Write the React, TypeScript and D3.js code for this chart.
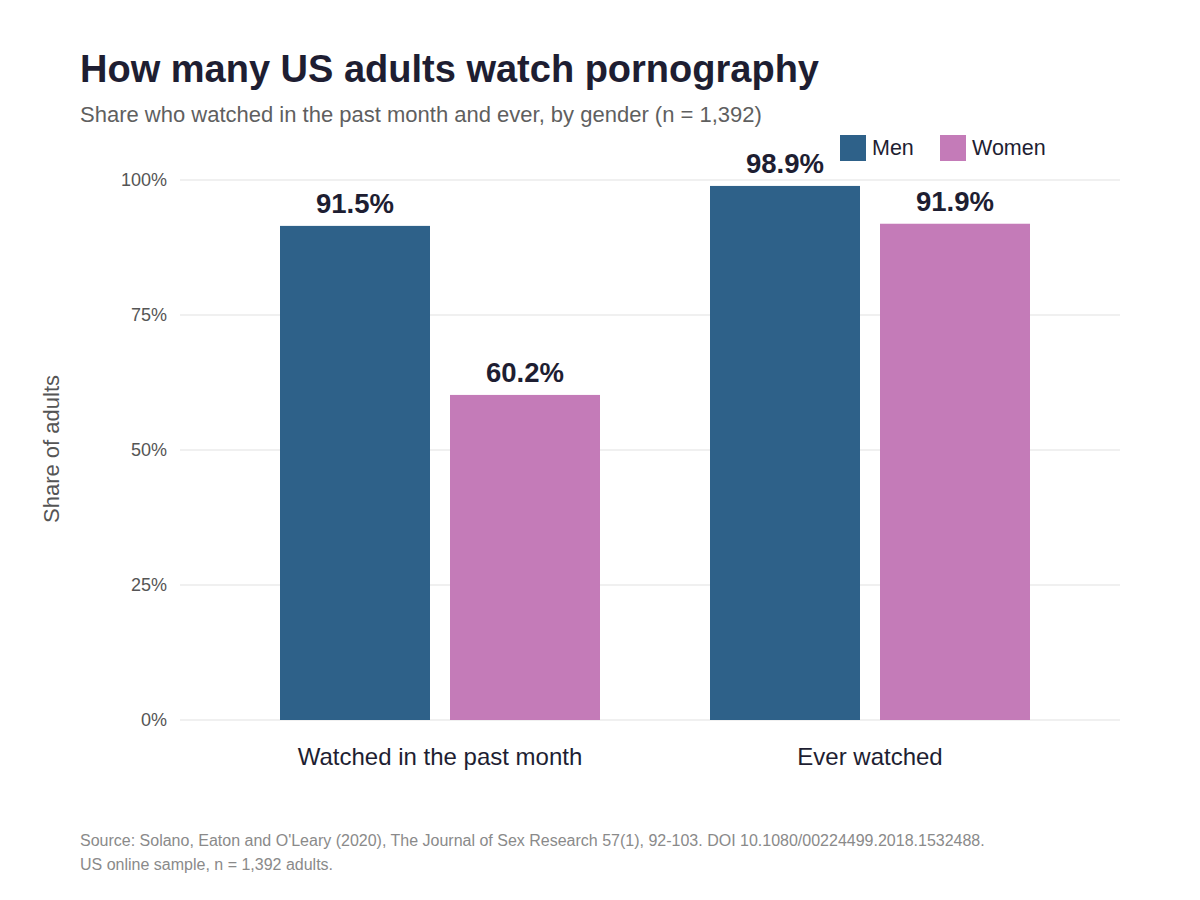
import * as d3 from 'd3'

const categories = ['Watched in the past month', 'Ever watched']
const genders = ['Men', 'Women']
const menValues = [91.5, 98.9]
const womenValues = [60.2, 91.9]
const yTicks = [0, 25, 50, 75, 100]

const colors: Record<string, string> = { Men: '#2e6189', Women: '#c47bb8' }

export default function App() {
  const width = 1200
  const height = 900
  const plot = { left: 180, right: 1120, top: 180, bottom: 720 }
  const font = '"Liberation Sans", Arial, Helvetica, sans-serif'

  // groups sit inside the plot with a wide gap between them
  const x = d3.scaleBand<string>().domain(categories).range([280, 1030]).paddingInner(110 / 430).paddingOuter(0)
  const xSub = d3.scaleBand<string>().domain(genders).range([0, x.bandwidth()]).paddingInner(20 / 170)
  const y = d3.scaleLinear().domain([0, 100]).range([plot.bottom, plot.top])

  const rows = categories.map((c, i) => ({ category: c, values: { Men: menValues[i], Women: womenValues[i] } as Record<string, number> }))

  return (
    <svg width={width} height={height} viewBox={`0 0 ${width} ${height}`} style={{ display: 'block', margin: '-8px', fontFamily: font }}>
      <rect width={width} height={height} fill="#ffffff" />

      <text x={80} y={82} fontSize={38} fontWeight="bold" fill="#1e1e32">How many US adults watch pornography</text>
      <text x={80} y={122} fontSize={22} fill="#5f5f5f">Share who watched in the past month and ever, by gender (n = 1,392)</text>

      {/* gridlines + y ticks */}
      {yTicks.map(t => (
        <g key={t}>
          <line x1={plot.left} x2={plot.right} y1={y(t)} y2={y(t)} stroke="#ebebeb" strokeWidth={1.5} />
          <text x={167} y={y(t)} dy="0.35em" textAnchor="end" fontSize={18} fill="#555555">{t}%</text>
        </g>
      ))}

      <text transform={`translate(59,449) rotate(-90)`} textAnchor="middle" fontSize={22} fill="#555555">Share of adults</text>

      {/* bars */}
      {rows.map(r => (
        <g key={r.category} transform={`translate(${x(r.category)},0)`}>
          {genders.map(g => (
            <g key={g}>
              <rect x={xSub(g)} y={y(r.values[g])} width={xSub.bandwidth()} height={y(0) - y(r.values[g])} fill={colors[g]} />
              <text x={xSub(g)! + xSub.bandwidth() / 2} y={y(r.values[g]) - 13} textAnchor="middle" fontSize={27.5} fontWeight="bold" fill="#1e1e32">
                {r.values[g].toFixed(1)}%
              </text>
            </g>
          ))}
          <text x={x.bandwidth() / 2} y={765} textAnchor="middle" fontSize={24} fill="#1e1e32">{r.category}</text>
        </g>
      ))}

      {/* legend */}
      {genders.map((g, i) => (
        <g key={g} transform={`translate(${840 + i * 100},135)`}>
          <rect width={26} height={26} fill={colors[g]} />
          <text x={32} y={20} fontSize={21.5} fill="#1e1e32">{g}</text>
        </g>
      ))}

      <text x={80} y={846} fontSize={16} fill="#8a8a8a">Source: Solano, Eaton and O'Leary (2020), The Journal of Sex Research 57(1), 92-103. DOI 10.1080/00224499.2018.1532488.</text>
      <text x={80} y={870} fontSize={16} fill="#8a8a8a">US online sample, n = 1,392 adults.</text>
    </svg>
  )
}
